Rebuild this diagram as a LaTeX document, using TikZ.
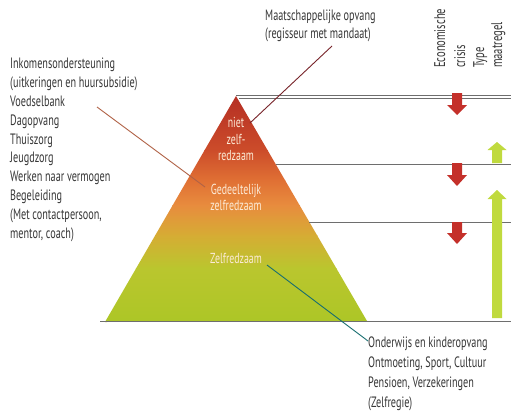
\documentclass[tikz,border=0pt]{standalone}
\usepackage{fontspec}
\setmainfont{PT Sans}[FakeStretch=0.68]
\definecolor{txt}{RGB}{55,55,55}
\definecolor{lab}{RGB}{252,235,215}
\definecolor{gline}{RGB}{110,110,110}
\definecolor{redar}{RGB}{196,48,42}
\definecolor{grar}{RGB}{192,218,62}
\definecolor{pA}{RGB}{180,46,36}
\definecolor{pB}{RGB}{204,76,42}
\definecolor{pC}{RGB}{224,112,52}
\definecolor{pD}{RGB}{232,140,62}
\definecolor{pE}{RGB}{214,172,52}
\definecolor{pF}{RGB}{186,198,46}
\definecolor{pG}{RGB}{172,198,38}
\definecolor{cL}{RGB}{176,98,70}
\definecolor{cT}{RGB}{120,36,42}
\definecolor{cB}{RGB}{24,110,112}
\begin{document}
\begin{tikzpicture}[x=1pt,y=-1pt,
  txtblock/.style={text=txt,align=left,inner sep=0pt,font=\fontsize{15}{18.8}\selectfont},
  pyrlab/.style={text=lab,align=center,inner sep=0pt,font=\fontsize{14.5}{16.5}\selectfont},
  hline/.style={draw=gline,line width=0.8pt},
  conn/.style={line width=0.9pt},
  redarrow/.style={fill=redar,draw=none},
  grarrow/.style={fill=grar,draw=none}]
\useasboundingbox (0,0) rectangle (511,413);
\fill[white] (0,0) rectangle (511,413);
% pyramid
\coordinate (apex) at (236,96);
\coordinate (bl) at (105,322);
\coordinate (br) at (367,321);
\begin{scope}
\clip (apex) -- (br) -- (bl) -- cycle;
\shade[top color=pA,bottom color=pB] (100,94) rectangle (372,150.5);
\shade[top color=pB,bottom color=pC] (100,150) rectangle (372,180.5);
\shade[top color=pC,bottom color=pD] (100,180) rectangle (372,205.5);
\shade[top color=pD,bottom color=pE] (100,205) rectangle (372,235.5);
\shade[top color=pE,bottom color=pF] (100,235) rectangle (372,268.5);
\shade[top color=pF,bottom color=pG] (100,268) rectangle (372,324);
\end{scope}
% horizontal lines
\coordinate (l1a) at (236,95); \coordinate (l1b) at (511,95);
\coordinate (l2a) at (239,98.5); \coordinate (l2b) at (511,98.5);
\coordinate (l3a) at (276,164); \coordinate (l3b) at (511,164);
\coordinate (l4a) at (309,222); \coordinate (l4b) at (511,222);
\coordinate (l5a) at (100,321); \coordinate (l5b) at (511,321);
\draw[hline] (l1a) -- (l1b);
\draw[hline] (l2a) -- (l2b);
\draw[hline] (l3a) -- (l3b);
\draw[hline] (l4a) -- (l4b);
\draw[hline,line width=1pt] (l5a) -- (l5b);
% pyramid labels
\node[pyrlab] (niet) at (236,139) {niet\\zelf-\\redzaam};
\node[pyrlab] (gedeel) at (236,197.5) {Gedeeltelijk\\zelfredzaam};
\node[pyrlab] (zelf) at (236,258) {Zelfredzaam};
% text blocks
\node[txtblock,anchor=north west] (left) at (10,58) {Inkomensondersteuning\\(uitkeringen en huursubsidie)\\Voedselbank\\Dagopvang\\Thuiszorg\\Jeugdzorg\\Werken naar vermogen\\Begeleiding\\(Met contactpersoon,\\mentor, coach)};
\node[txtblock,anchor=north west,font=\fontsize{15}{18}\selectfont] (top) at (265,10) {Maatschappelijke opvang\\(regisseur met mandaat)};
\node[txtblock,anchor=north west,font=\fontsize{15}{20}\selectfont] (bottom) at (368,337) {Onderwijs en kinderopvang\\Ontmoeting, Sport, Cultuur\\Pensioen, Verzekeringen\\(Zelfregie)};
% rotated headers
\node[txtblock,rotate=90,anchor=north west,font=\fontsize{15.5}{20}\selectfont] (eco) at (434,68) {Economische\\crisis};
\node[txtblock,rotate=90,anchor=north west,font=\fontsize{15.5}{18}\selectfont] (type) at (473,68) {Type\\maatregel};
% connectors
\coordinate (cl0) at (97,107); \coordinate (cl1) at (205,187);
\coordinate (ct0) at (332,46); \coordinate (ct1) at (250,123);
\coordinate (cb0) at (267,265); \coordinate (cb1) at (368,341);
\draw[conn,draw=cL] (cl0) -- (cl1);
\draw[conn,draw=cT] (ct0) -- (ct1);
\draw[conn,draw=cB] (cb0) -- (cb1);
% red arrows
\foreach \t/\s/\b in {93/105/115, 163/175/186, 222/233/244}{
  \fill[redarrow] (452,\t) -- (462,\t) -- (462,\s) -- (467,\s) -- (457,\b) -- (447,\s) -- (452,\s) -- cycle;
}
% green arrows
\foreach \t/\s/\b in {142/150/163, 190/199/318}{
  \fill[grarrow] (497,\t) -- (506.5,\s) -- (502,\s) -- (502,\b) -- (492,\b) -- (492,\s) -- (487.5,\s) -- cycle;
}
\end{tikzpicture}
\end{document}
